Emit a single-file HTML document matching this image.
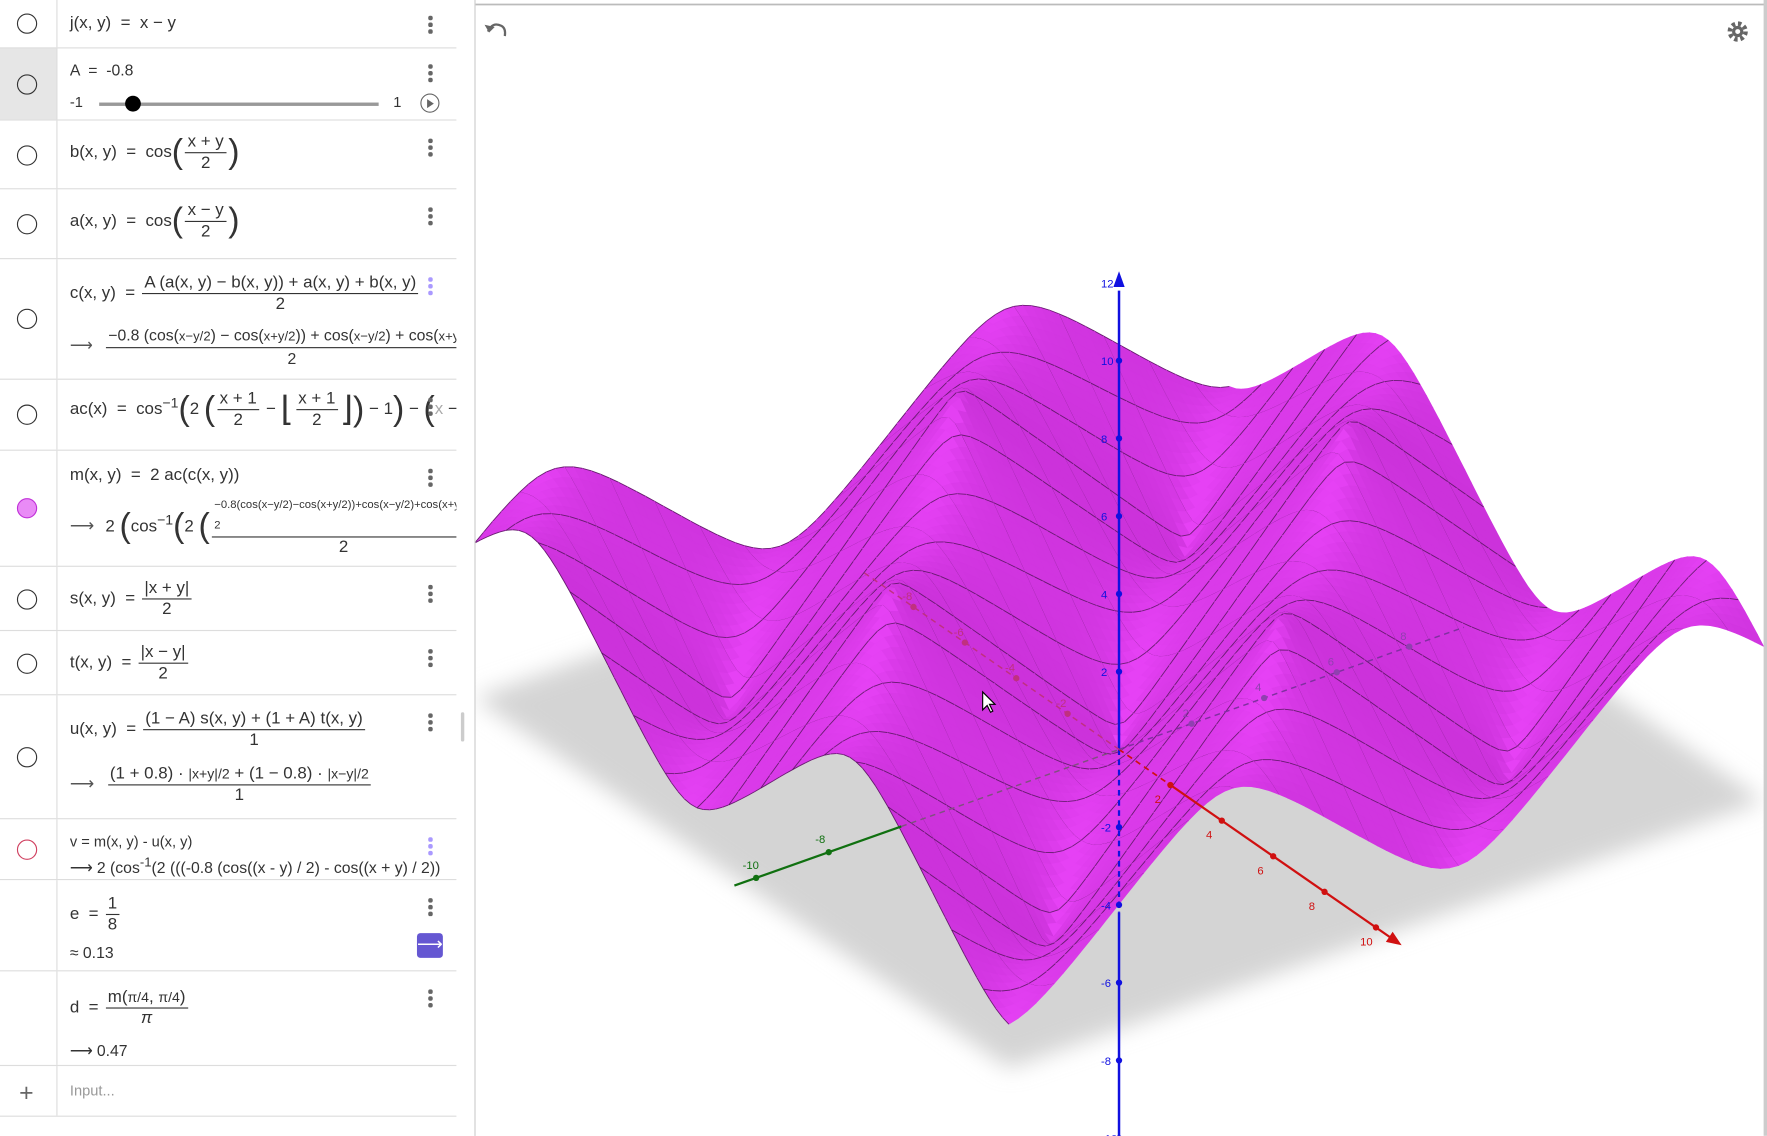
<!DOCTYPE html>
<html><head><meta charset="utf-8">
<style>
html,body{margin:0;padding:0;background:#fff;overflow:hidden}
#root{position:absolute;left:0;top:0;width:1568px;height:1008px;transform:scale(1.12691);transform-origin:0 0;font-family:"Liberation Sans",sans-serif;color:#333}
#panel{position:absolute;left:0;top:0;width:405px;height:1008px;background:#fff}
.row{position:absolute;left:0;width:405px;border-bottom:1px solid #ddd}
.mk{position:absolute;left:0;top:0;bottom:0;width:50px;border-right:1px solid #ddd}
.circ{position:absolute;left:15px;width:16px;height:16px;border:1.5px solid #333;border-radius:50%}
.tx{position:absolute;left:62px;font-size:15px;white-space:nowrap;color:#333}
.dots{position:absolute;left:380px;font-size:16px;color:#666;line-height:5px;width:4px}
.dots i{display:block;width:3.5px;height:3.5px;background:#666;border-radius:50%;margin-bottom:2.5px}
.fr{display:inline-flex;flex-direction:column;align-items:center;vertical-align:middle;margin:0 2px}
.fr .n{border-bottom:1.3px solid #333;padding:0 2px;line-height:18px}
.fr .d{line-height:18px}
.big{font-size:30px;vertical-align:middle;font-weight:100}
.ar{color:#555;margin-right:10px}
</style></head><body>
<div id="root">
<svg id="g3d" width="1568" height="1008" style="position:absolute;left:0;top:0">
 <defs><filter id="bl" x="-20%" y="-20%" width="140%" height="140%"><feGaussianBlur stdDeviation="10"/></filter></defs>
 <line x1="420" y1="4" x2="1568" y2="4" stroke="#bbb" stroke-width="1.5"/>
 <g id="plane"></g><g id="surf"></g><g id="axes"></g>
 <g><path d="M433 28 q4-9 12-5 q4 2 3 9" fill="none" stroke="#666" stroke-width="2"/><path d="M430 22 l4 7 l5-5z" fill="#666"/></g>
 <g><circle cx="1542" cy="28" r="7" fill="none" stroke="#666" stroke-width="4" stroke-dasharray="3 2.5"/><circle cx="1542" cy="28" r="5" fill="#666"/><circle cx="1542" cy="28" r="2.2" fill="#fff"/></g>
 <path d="M872 614 v16 l4-4 l3 6 l2-1 l-3-6 h5z" fill="#fff" stroke="#000" stroke-width="1"/>
 <rect x="1565" y="0" width="3" height="1008" fill="#ccc"/>
</svg>
<div style="position:absolute;left:405px;top:0;width:16px;height:1008px;background:#fff;border-right:1px solid #ccc"><div style="position:absolute;left:4px;top:632px;width:3px;height:26px;background:#ccc;border-radius:2px"></div></div>
<div id="panel">
 <div class="row" style="top:0;height:42px"><div class="mk"><div class="circ" style="top:12px"></div></div><div class="tx" style="top:12px">j(x, y) &nbsp;=&nbsp; x − y</div><div class="dots" style="top:14px"><i></i><i></i><i></i></div></div>
 <div class="row" style="top:43px;height:63px"><div class="mk" style="background:#e6e6e6"><div class="circ" style="top:23px"></div></div><div class="tx" style="top:11px;font-size:14px">A &nbsp;=&nbsp; -0.8</div><div class="dots" style="top:14px"><i></i><i></i><i></i></div>
  <div class="tx" style="top:40px;font-size:13px">-1</div><div style="position:absolute;left:88px;top:48px;width:248px;height:3px;background:#999"></div><div style="position:absolute;left:111px;top:42px;width:14px;height:14px;border-radius:50%;background:#000"></div><div class="tx" style="left:349px;top:40px;font-size:13px">1</div>
  <div style="position:absolute;left:373px;top:40px;width:15px;height:15px;border:1.5px solid #666;border-radius:50%"><div style="position:absolute;left:5px;top:3.5px;border-left:6px solid #666;border-top:4px solid transparent;border-bottom:4px solid transparent"></div></div></div>
 <div class="row" style="top:107px;height:60px"><div class="mk"><div class="circ" style="top:22px"></div></div><div class="tx" style="top:10px">b(x, y) &nbsp;=&nbsp; cos<span class="big">(</span><span class="fr"><span class="n">x + y</span><span class="d">2</span></span><span class="big">)</span></div><div class="dots" style="top:16px"><i></i><i></i><i></i></div></div>
 <div class="row" style="top:168px;height:61px"><div class="mk"><div class="circ" style="top:22px"></div></div><div class="tx" style="top:10px">a(x, y) &nbsp;=&nbsp; cos<span class="big">(</span><span class="fr"><span class="n">x − y</span><span class="d">2</span></span><span class="big">)</span></div><div class="dots" style="top:16px"><i></i><i></i><i></i></div></div>
 <div class="row" style="top:230px;height:106px"><div class="mk"><div class="circ" style="top:44px"></div></div><div class="tx" style="top:12px">c(x, y) &nbsp;=&nbsp;<span class="fr"><span class="n">A (a(x, y) − b(x, y)) + a(x, y) + b(x, y)</span><span class="d">2</span></span></div><div class="dots" style="top:16px"><i style="background:#a9f"></i><i style="background:#a9f"></i><i style="background:#a9f"></i></div>
  <div class="tx" style="top:58px;font-size:14px;width:343px;overflow:hidden"><span class="ar">⟶</span><span class="fr"><span class="n">−0.8 (cos(<small>x−y/2</small>) − cos(<small>x+y/2</small>)) + cos(<small>x−y/2</small>) + cos(<small>x+y/2</small>)</span><span class="d">2</span></span></div></div>
 <div class="row" style="top:337px;height:62px"><div class="mk"><div class="circ" style="top:22px"></div></div><div class="tx" style="top:8px;width:343px;overflow:hidden">ac(x) &nbsp;=&nbsp; cos<sup>−1</sup><span class="big">(</span>2 <span class="big">(</span><span class="fr"><span class="n">x + 1</span><span class="d">2</span></span> − <span class="big">⌊</span><span class="fr"><span class="n">x + 1</span><span class="d">2</span></span><span class="big">⌋)</span> − 1<span class="big">)</span> − <span class="big">(</span><span style="color:#aaa">x</span> − 2</div><div class="dots" style="top:16px"><i></i><i></i><i></i></div></div>
 <div class="row" style="top:400px;height:102px"><div class="mk"><div class="circ" style="top:42px;background:#e98bf6;border-color:#c030d8"></div></div><div class="tx" style="top:13px">m(x, y) &nbsp;=&nbsp; 2 ac(c(x, y))</div><div class="dots" style="top:16px"><i></i><i></i><i></i></div>
  <div class="tx" style="top:40px;width:343px;overflow:hidden"><span class="ar">⟶</span>2 <span class="big">(</span>cos<sup>−1</sup><span class="big">(</span>2 <span class="big">(</span><span class="fr"><span class="n" style="font-size:10px">−0.8(cos(x−y/2)−cos(x+y/2))+cos(x−y/2)+cos(x+y/2)<br>2</span><span class="d">2</span></span></div></div>
 <div class="row" style="top:503px;height:56px"><div class="mk"><div class="circ" style="top:20px"></div></div><div class="tx" style="top:10px">s(x, y) &nbsp;=&nbsp;<span class="fr"><span class="n">|x + y|</span><span class="d">2</span></span></div><div class="dots" style="top:16px"><i></i><i></i><i></i></div></div>
 <div class="row" style="top:560px;height:56px"><div class="mk"><div class="circ" style="top:20px"></div></div><div class="tx" style="top:10px">t(x, y) &nbsp;=&nbsp;<span class="fr"><span class="n">|x − y|</span><span class="d">2</span></span></div><div class="dots" style="top:16px"><i></i><i></i><i></i></div></div>
 <div class="row" style="top:617px;height:109px"><div class="mk"><div class="circ" style="top:46px"></div></div><div class="tx" style="top:12px">u(x, y) &nbsp;=&nbsp;<span class="fr"><span class="n">(1 − A) s(x, y) + (1 + A) t(x, y)</span><span class="d">1</span></span></div><div class="dots" style="top:16px"><i></i><i></i><i></i></div>
  <div class="tx" style="top:61px"><span class="ar">⟶</span><span class="fr"><span class="n">(1 + 0.8) · <small>|x+y|/2</small> + (1 − 0.8) · <small>|x−y|/2</small></span><span class="d">1</span></span></div></div>
 <div class="row" style="top:727px;height:53px"><div class="mk"><div class="circ" style="top:18px;border-color:#d04060"></div></div><div class="tx" style="top:12px;font-size:13px">v = m(x, y) - u(x, y)</div><div class="tx" style="top:32px;font-size:14px;width:343px;overflow:hidden">⟶ 2 (cos<sup>-1</sup>(2 (((-0.8 (cos((x - y) / 2) - cos((x + y) / 2))</div><div class="dots" style="top:16px"><i style="background:#a9f"></i><i style="background:#a9f"></i><i style="background:#a9f"></i></div></div>
 <div class="row" style="top:781px;height:80px"><div class="mk"></div><div class="tx" style="top:12px">e &nbsp;=&nbsp;<span class="fr"><span class="n">1</span><span class="d">8</span></span></div><div class="tx" style="top:56px;font-size:14px">≈ 0.13</div><div class="dots" style="top:16px"><i></i><i></i><i></i></div><div style="position:absolute;left:370px;top:47px;width:23px;height:22px;background:#6557d2;border-radius:3px;color:#fff;text-align:center;font-size:16px;line-height:22px">⟶</div></div>
 <div class="row" style="top:862px;height:83px"><div class="mk"></div><div class="tx" style="top:14px">d &nbsp;=&nbsp;<span class="fr"><span class="n">m(<small>π/4</small>, <small>π/4</small>)</span><span class="d"><i>π</i></span></span></div><div class="tx" style="top:62px;font-size:14px">⟶ 0.47</div><div class="dots" style="top:16px"><i></i><i></i><i></i></div></div>
 <div class="row" style="top:946px;height:44px"><div class="mk"><div style="position:absolute;left:17px;top:11px;font-size:22px;color:#666">+</div></div><div class="tx" style="top:14px;font-size:13px;color:#999">Input...</div></div>
</div>
</div>
<script>
const zTicks=[-10,-8,-6,-4,-2,2,4,6,8,10,12];
const xTicks=[2,4,6,8,10];
const yTicks=[-10,-8];
const xNegTicks=[-2,-4,-6,-8];
const yPosTicks=[2,4,6,8];
const A=-0.8;
const O=[993,665],EX=[22.8,15.8],EY=[32.2,-11.4],EZ=[0,-34.5];
function P(x,y,z){return [O[0]+x*EX[0]+y*EY[0]+z*EZ[0],O[1]+x*EX[1]+y*EY[1]+z*EZ[1]];}
function m(x,y){const a=Math.cos((x-y)/2),b=Math.cos((x+y)/2);const c=(A*(a-b)+a+b)/2;return 2*Math.acos(Math.max(-1,Math.min(1,c)));}
const NS='http://www.w3.org/2000/svg';
function el(t,at,par){const e=document.createElementNS(NS,t);for(const k in at)e.setAttribute(k,at[k]);par.appendChild(e);return e;}
const R=10.4;
const pl=document.getElementById('plane');
const pc=[P(-R,-R,0),P(R,-R,0),P(R,R,0),P(-R,R,0)];
const sh=el('polygon',{points:pc.map(p=>p.join(',')).join(' '),fill:'#d4d4d4',filter:'url(#bl)'},pl);


const sg=document.getElementById('surf');


const N=84,h=2*R/N;const Z=[];
for(let i=0;i<=N;i++){Z.push([]);for(let j=0;j<=N;j++)Z[i].push(m(-R+i*h,-R+j*h));}
const quads=[];
for(let i=0;i<N;i++)for(let j=0;j<N;j++){const x=-R+(i+.5)*h,y=-R+(j+.5)*h;quads.push([i,j,15.8*x-11.4*y]);}
quads.sort((a,b)=>a[2]-b[2]);
const L=[0.35,-0.55,0.75];const ln=Math.hypot(...L);
let html='';
const lineStep=Math.round(N/16);
for(const [i,j] of quads){
 const x0=-R+i*h,x1=x0+h,y0=-R+j*h,y1=y0+h;
 const z00=Z[i][j],z10=Z[i+1][j],z11=Z[i+1][j+1],z01=Z[i][j+1];
 const p=[P(x0,y0,z00),P(x1,y0,z10),P(x1,y1,z11),P(x0,y1,z01)];
 const dzx=((z10-z00)+(z11-z01))/(2*h),dzy=((z01-z00)+(z11-z10))/(2*h);
 const nn=Math.hypot(dzx,dzy,1);const d=(-dzx*L[0]-dzy*L[1]+L[2])/(nn*ln);
 const s=Math.max(0,Math.min(1,0.45+0.6*d));
 const r=Math.round(160+70*s),g=Math.round(25+40*s),b=Math.round(175+70*s);
 const pts=p.map(q=>q[0].toFixed(1)+','+q[1].toFixed(1)).join(' ');
 html+=`<polygon points="${pts}" fill="rgb(${r},${g},${b})" stroke="rgb(${r},${g},${b})" stroke-width="0.6"/>`;
 if(i%lineStep===0)html+=`<line x1="${p[0][0].toFixed(1)}" y1="${p[0][1].toFixed(1)}" x2="${p[3][0].toFixed(1)}" y2="${p[3][1].toFixed(1)}" stroke="#3a1040" stroke-width="0.8" stroke-opacity="0.7"/>`;
 if(j%lineStep===0)html+=`<line x1="${p[0][0].toFixed(1)}" y1="${p[0][1].toFixed(1)}" x2="${p[1][0].toFixed(1)}" y2="${p[1][1].toFixed(1)}" stroke="#3a1040" stroke-width="0.8" stroke-opacity="0.7"/>`;
}
sg.innerHTML=html;
const ax=document.getElementById('axes');
function seg(a,b,col,w,dash,name){const e=el('line',{x1:a[0],y1:a[1],x2:b[0],y2:b[1],stroke:col,'stroke-width':w,'stroke-dasharray':dash||'none'},ax);

}
function tick(p,col,lab,dx,dy){const c=el('circle',{cx:p[0],cy:p[1],r:2.8,fill:col},ax);


const t=el('text',{x:p[0]+dx,y:p[1]+dy,fill:col,'font-size':10,'font-family':'Liberation Sans, sans-serif'},ax);t.textContent=lab;

}
seg(P(0,0,0),P(0,0,11.8),'#1010e0',2.2,null,'z-axis');
seg(P(0,0,0),P(0,0,-4.2),'#1010e0',2,'5 4','z-axis-hidden');
seg(P(0,0,-4.2),P(0,0,-11),'#1010e0',2.2,null,'z-axis-lower');
el('polygon',{points:(()=>{const t=P(0,0,12.3);return `${t[0]},${t[1]} ${t[0]-5},${t[1]+14} ${t[0]+5},${t[1]+14}`})(),fill:'#1010e0'},ax);
for(const z of zTicks)tick(P(0,0,z),'#1010e0',String(z),-16,4);
seg(P(2,0,0),P(10.6,0,0),'#d01010',2,null,'x-axis');
seg(P(0,0,0),P(2,0,0),'#d01010',1.5,'5 4','x-axis-hidden');
el('polygon',{points:(()=>{const t=P(11,0,0);return `${t[0]},${t[1]} ${t[0]-14},${t[1]-3} ${t[0]-8},${t[1]-12}`})(),fill:'#d01010'},ax);
for(const x of xTicks)tick(P(x,0,0),'#d01010',String(x),-14,16);
seg(P(0,0,0),P(-10,0,0),'#c03080',1.3,'5 4','x-axis-negative');
for(const x of xNegTicks)tick(P(x,0,0),'#c03080',String(x),-10,-6);
seg(P(0,-10.6,0),P(0,-6,0),'#107010',2,null,'y-axis');
seg(P(0,-6,0),P(0,0,0),'#805080',1.3,'5 4','y-axis-hidden');
for(const y of yTicks)tick(P(0,y,0),'#107010',String(y),-12,-8);
seg(P(0,0,0),P(0,9.5,0),'#8030a0',1.3,'5 4','y-axis-positive');
for(const y of yPosTicks)tick(P(0,y,0),'#9040b0',String(y),-8,-6);
</script>
</body></html>
